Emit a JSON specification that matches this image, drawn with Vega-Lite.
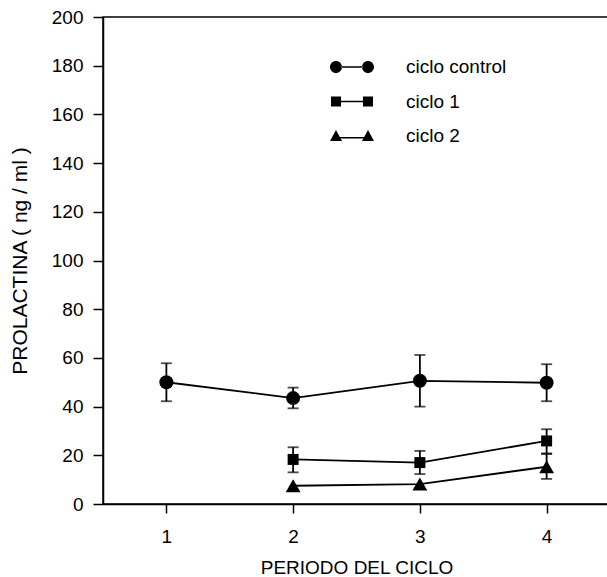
{
  "$schema": "https://vega.github.io/schema/vega-lite/v6.json",
  "autosize": "none",
  "padding": {"left": 103, "top": 17, "right": 0, "bottom": 73},
  "width": 507,
  "height": 487,
  "background": "white",
  "config": {
    "font": "Liberation Sans",
    "view": {"stroke": "black", "strokeWidth": 1.5},
    "axis": {
      "grid": false,
      "domainColor": "black",
      "domainWidth": 1.5,
      "tickColor": "black",
      "tickWidth": 1.5,
      "labelColor": "black",
      "labelFont": "Liberation Sans",
      "labelFontSize": 19,
      "titleColor": "black",
      "titleFont": "Liberation Sans",
      "titleFontWeight": "normal",
      "titleFontSize": 19
    }
  },
  "data": {
    "values": [
      {"serie": "ciclo control", "periodo": 1, "valor": 50, "lo": 42.2, "hi": 57.8},
      {"serie": "ciclo control", "periodo": 2, "valor": 43.5, "lo": 39.3, "hi": 47.8},
      {"serie": "ciclo control", "periodo": 3, "valor": 50.6, "lo": 40.0, "hi": 61.2},
      {"serie": "ciclo control", "periodo": 4, "valor": 49.8, "lo": 42.2, "hi": 57.4},
      {"serie": "ciclo 1", "periodo": 2, "valor": 18.3, "lo": 13.0, "hi": 23.3},
      {"serie": "ciclo 1", "periodo": 3, "valor": 17.0, "lo": 12.3, "hi": 21.8},
      {"serie": "ciclo 1", "periodo": 4, "valor": 25.9, "lo": 20.8, "hi": 30.7},
      {"serie": "ciclo 2", "periodo": 2, "valor": 7.5, "lo": null, "hi": null},
      {"serie": "ciclo 2", "periodo": 3, "valor": 8.2, "lo": null, "hi": null},
      {"serie": "ciclo 2", "periodo": 4, "valor": 15.3, "lo": 10.3, "hi": 20.5}
    ]
  },
  "layer": [
    {
      "transform": [{"filter": "datum.lo != null"}],
      "mark": {"type": "rule", "color": "black", "strokeWidth": 1.8},
      "encoding": {
        "x": {
          "field": "periodo", "type": "quantitative",
          "scale": {"domain": [0.5, 4.5]},
          "axis": {
            "values": [1, 2, 3, 4], "format": "d", "tickSize": 9, "labelPadding": 14,
            "title": "PERIODO DEL CICLO", "titleX": 253.5, "titleY": 63,
            "titleBaseline": "middle", "titleAlign": "center"
          }
        },
        "y": {
          "field": "lo", "type": "quantitative",
          "scale": {"domain": [0, 200]},
          "axis": {
            "values": [0, 20, 40, 60, 80, 100, 120, 140, 160, 180, 200],
            "tickSize": 10, "labelPadding": 10,
            "title": "PROLACTINA  ( ng / ml )", "titleFontSize": 21,
            "titleX": -83, "titleY": 243.5, "titleAngle": -90,
            "titleBaseline": "middle", "titleAlign": "center"
          }
        },
        "y2": {"field": "hi"}
      }
    },
    {
      "transform": [{"filter": "datum.lo != null"}],
      "mark": {"type": "tick", "orient": "horizontal", "color": "black", "size": 11, "thickness": 1.8},
      "encoding": {
        "x": {"field": "periodo", "type": "quantitative"},
        "y": {"field": "lo", "type": "quantitative"}
      }
    },
    {
      "transform": [{"filter": "datum.lo != null"}],
      "mark": {"type": "tick", "orient": "horizontal", "color": "black", "size": 11, "thickness": 1.8},
      "encoding": {
        "x": {"field": "periodo", "type": "quantitative"},
        "y": {"field": "hi", "type": "quantitative"}
      }
    },
    {
      "mark": {"type": "line", "color": "black", "strokeWidth": 1.8},
      "encoding": {
        "x": {"field": "periodo", "type": "quantitative"},
        "y": {"field": "valor", "type": "quantitative"},
        "detail": {"field": "serie"}
      }
    },
    {
      "transform": [{"filter": "datum.serie === 'ciclo control'"}],
      "mark": {"type": "point", "shape": "circle", "filled": true, "color": "black", "opacity": 1, "size": 196},
      "encoding": {
        "x": {"field": "periodo", "type": "quantitative"},
        "y": {"field": "valor", "type": "quantitative"}
      }
    },
    {
      "transform": [{"filter": "datum.serie === 'ciclo 1'"}],
      "mark": {"type": "point", "shape": "square", "filled": true, "color": "black", "opacity": 1, "size": 121},
      "encoding": {
        "x": {"field": "periodo", "type": "quantitative"},
        "y": {"field": "valor", "type": "quantitative"}
      }
    },
    {
      "transform": [{"filter": "datum.serie === 'ciclo 2'"}],
      "mark": {"type": "point", "shape": "triangle-up", "filled": true, "color": "black", "opacity": 1, "size": 220},
      "encoding": {
        "x": {"field": "periodo", "type": "quantitative"},
        "y": {"field": "valor", "type": "quantitative"}
      }
    },
    {
      "transform": [{"filter": "false"}],
      "mark": {"type": "point", "filled": true, "color": "black", "opacity": 1, "size": 484},
      "encoding": {
        "x": {"field": "periodo", "type": "quantitative"},
        "y": {"field": "valor", "type": "quantitative"},
        "shape": {
          "field": "serie", "type": "nominal",
          "scale": {
            "domain": ["ciclo control", "ciclo 1", "ciclo 2"],
            "range": [
              "M-2,0A0.545,0.545,0,1,0,-0.909,0A0.545,0.545,0,1,0,-2,0Z M0.909,0A0.545,0.545,0,1,0,2,0A0.545,0.545,0,1,0,0.909,0Z M-0.95,-0.06L0.95,-0.06L0.95,0.06L-0.95,0.06Z",
              "M-1.91,-0.45L-1,-0.45L-1,0.45L-1.91,0.45Z M1,-0.45L1.91,-0.45L1.91,0.45L1,0.45Z M-1.02,-0.06L1.02,-0.06L1.02,0.06L-1.02,0.06Z",
              "M-1.4545,-0.55L-0.91,0.45L-2,0.45Z M1.4545,-0.55L2,0.45L0.91,0.45Z M-1.2,0.1L1.2,0.1L1.2,0.22L-1.2,0.22Z"
            ]
          },
          "legend": {
            "title": null,
            "orient": "none",
            "legendX": 237,
            "legendY": 38,
            "padding": 0,
            "symbolSize": 484,
            "symbolFillColor": "black",
            "symbolOpacity": 1,
            "labelOffset": 42,
            "rowPadding": 12.5,
            "labelFontSize": 19,
            "labelColor": "black",
            "labelFont": "Liberation Sans"
          }
        }
      }
    }
  ]
}
